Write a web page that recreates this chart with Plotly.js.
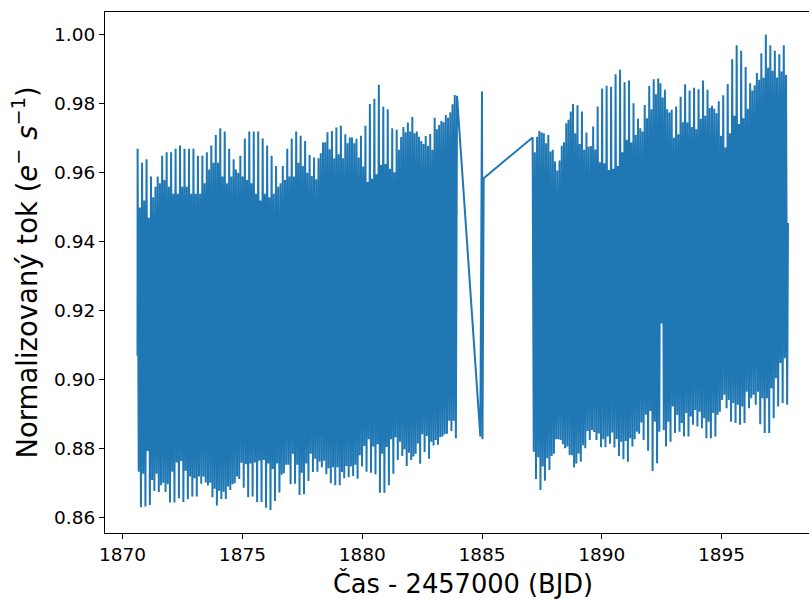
<!DOCTYPE html>
<html>
<head>
<meta charset="utf-8">
<script src="https://cdn.plot.ly/plotly-3.0.1.min.js"></script>
<style>
  html, body { margin: 0; padding: 0; overflow: hidden; background: #fff; }
  #chart { width: 830px; height: 599px; }
</style>
</head>
<body>
<div id="chart"></div>
<script>
// Light curve of a pulsating star: normalised flux versus time (BJD - 2457000).
// Each pulsation cycle is stored as its maximum and its minimum flux.

// First orbit (cycles spread evenly between the first and last maximum)
const orbit1Start = 1870.626;
const orbit1End = 1883.956;
const orbit1FirstFlux = 0.907;
const orbit1Max = [
  0.967, 0.950, 0.963, 0.952, 0.964, 0.947, 0.959, 0.953, 0.956, 0.959,
  0.957, 0.965, 0.958, 0.966, 0.956, 0.966, 0.954, 0.967, 0.954, 0.968,
  0.956, 0.967, 0.956, 0.967, 0.954, 0.967, 0.954, 0.965, 0.954, 0.965,
  0.957, 0.966, 0.961, 0.968, 0.963, 0.971, 0.963, 0.973, 0.959, 0.972,
  0.957, 0.967, 0.959, 0.964, 0.961, 0.960, 0.965, 0.959, 0.970, 0.958,
  0.972, 0.957, 0.972, 0.954, 0.972, 0.952, 0.970, 0.954, 0.968, 0.953,
  0.965, 0.954, 0.962, 0.956, 0.957, 0.962, 0.958, 0.967, 0.959, 0.970,
  0.959, 0.972, 0.963,
  0.9708, 0.9620, 0.9693, 0.9601, 0.9652, 0.9591, 0.9645, 0.9582, 0.9643, 0.9657,
  0.9688, 0.9689, 0.9718, 0.9669, 0.9722, 0.9643, 0.9732, 0.9654, 0.9737, 0.9643,
  0.9712, 0.9686, 0.9703, 0.9703, 0.9686, 0.9699, 0.9645, 0.9708, 0.9619, 0.9737,
  0.9574, 0.9800, 0.9583, 0.9815, 0.9596, 0.9856, 0.9623, 0.9792, 0.9626, 0.9785,
  0.9612, 0.9730, 0.9602, 0.9725, 0.9667, 0.9704, 0.9733, 0.9718, 0.9746, 0.9720,
  0.9763, 0.9715, 0.9720, 0.9705, 0.9693, 0.9684, 0.9707, 0.9678, 0.9713, 0.9667,
  0.9760, 0.9727, 0.9739, 0.9751, 0.9747, 0.9768, 0.9760, 0.9776, 0.9799, 0.9826,
  0.9824
];
const orbit1Min = [
  0.8734, 0.8631, 0.8728, 0.8633, 0.8794, 0.8638, 0.8710, 0.8678, 0.8728, 0.8675,
  0.8695, 0.8702, 0.8675, 0.8698, 0.8645, 0.8734, 0.8645, 0.8761, 0.8657, 0.8765,
  0.8646, 0.8737, 0.8654, 0.8720, 0.8662, 0.8715, 0.8662, 0.8720, 0.8699, 0.8720,
  0.8703, 0.8694, 0.8702, 0.8660, 0.8685, 0.8636, 0.8679, 0.8655, 0.8676, 0.8655,
  0.8691, 0.8681, 0.8698, 0.8701, 0.8720, 0.8713, 0.8760, 0.8688, 0.8756, 0.8660,
  0.8758, 0.8662, 0.8761, 0.8646, 0.8766, 0.8646, 0.8768, 0.8630, 0.8758, 0.8623,
  0.8742, 0.8649, 0.8758, 0.8674, 0.8725, 0.8730, 0.8754, 0.8754, 0.8698, 0.8786,
  0.8699, 0.8754, 0.8667, 0.8731, 0.8669, 0.8758, 0.8707, 0.8786, 0.8733, 0.8772,
  0.8734, 0.8764, 0.8747, 0.8766, 0.8727, 0.8744, 0.8701, 0.8747, 0.8695, 0.8747,
  0.8695, 0.8733, 0.8715, 0.8751, 0.8718, 0.8749, 0.8722, 0.8754, 0.8714, 0.8782,
  0.8749, 0.8809, 0.8734, 0.8828, 0.8731, 0.8807, 0.8727, 0.8814, 0.8673, 0.8786,
  0.8673, 0.8806, 0.8695, 0.8828, 0.8728, 0.8834, 0.8768, 0.8821, 0.8780, 0.8799,
  0.8751, 0.8789, 0.8768, 0.8778, 0.8786, 0.8816, 0.8757, 0.8843, 0.8791, 0.8838,
  0.8772, 0.8821, 0.8810, 0.8826, 0.8812, 0.8834, 0.8836, 0.8843, 0.8844, 0.8882,
  0.8852, 0.8882, 0.8831
];

// Short stretch of points inside the mid-sector gap
const gapTimes = [1884.93, 1885.00, 1885.02, 1885.07];
const gapFlux = [0.8836, 0.9836, 0.8828, 0.9585];

// Second orbit
const orbit2Start = 1887.112;
const orbit2End = 1897.688;
const orbit2LastTime = 1897.77;
const orbit2LastFlux = 0.9455;
const orbit2Max = [
  0.9703, 0.9660, 0.9705, 0.9722, 0.9717, 0.9715, 0.9686, 0.9710, 0.9662, 0.9667,
  0.9633, 0.9607, 0.9636, 0.9679, 0.9689, 0.9744, 0.9754, 0.9778, 0.9800, 0.9715,
  0.9796, 0.9684, 0.9778, 0.9667, 0.9717, 0.9676, 0.9678, 0.9735, 0.9668, 0.9793,
  0.9631, 0.9845, 0.9628, 0.9853, 0.9609, 0.9850, 0.9612, 0.9886, 0.9620, 0.9899,
  0.9660, 0.9863, 0.9696, 0.9868, 0.9688, 0.9802, 0.9710, 0.9757, 0.9730, 0.9720,
  0.9797, 0.9759, 0.9852, 0.9785, 0.9872, 0.9828, 0.9874, 0.9860, 0.9819, 0.9841,
  0.9785, 0.9775, 0.9783, 0.9702, 0.9793, 0.9712, 0.9821, 0.9747, 0.9857, 0.9746,
  0.9839, 0.9733, 0.9847, 0.9727, 0.9843, 0.9757, 0.9868, 0.9766, 0.9841, 0.9788,
  0.9795, 0.9786, 0.9773, 0.9808, 0.9708, 0.9825, 0.9674, 0.9858, 0.9715, 0.9930,
  0.9766, 0.9970, 0.9742, 0.9954, 0.9759, 0.9907, 0.9786, 0.9860, 0.9839, 0.9854,
  0.9890, 0.9870, 0.9947, 0.9876, 1.0001, 0.9905, 0.9970, 0.9896, 0.9954, 0.9877,
  0.9944, 0.9894, 0.9970, 0.9884
];
const orbit2Min = [
  0.8792, 0.8713, 0.8776, 0.8681, 0.8749, 0.8708, 0.8773, 0.8739, 0.8780, 0.8786,
  0.8828, 0.8828, 0.8826, 0.8814, 0.8802, 0.8807, 0.8783, 0.8782, 0.8746, 0.8758,
  0.8787, 0.8763, 0.8811, 0.8802, 0.8852, 0.8826, 0.8855, 0.8849, 0.8826, 0.8845,
  0.8805, 0.8828, 0.8805, 0.8836, 0.8815, 0.8848, 0.8804, 0.8829, 0.8780, 0.8821,
  0.8770, 0.8823, 0.8763, 0.8831, 0.8807, 0.8828, 0.8850, 0.8844, 0.8877, 0.8826,
  0.8899, 0.8795, 0.8910, 0.8736, 0.8879, 0.8759, 0.8850, 0.9164, 0.8855, 0.8807,
  0.8879, 0.8821, 0.8923, 0.8846, 0.8899, 0.8850, 0.8875, 0.8836, 0.8904, 0.8836,
  0.8894, 0.8870, 0.8913, 0.8865, 0.8908, 0.8860, 0.8889, 0.8831, 0.8879, 0.8831,
  0.8904, 0.8836, 0.8899, 0.8908, 0.8942, 0.8957, 0.8918, 0.8942, 0.8879, 0.8933,
  0.8875, 0.8928, 0.8870, 0.8923, 0.8875, 0.8966, 0.8918, 0.8947, 0.8957, 0.8928,
  0.8966, 0.8872, 0.8947, 0.8846, 0.8947, 0.8846, 0.8976, 0.8889, 0.9005, 0.8923,
  0.9049, 0.8933, 0.9063, 0.8928
];

// Interleave maxima and minima of one orbit into a time series
function buildOrbit(start, end, maxima, minima) {
  const step = (end - start) / (maxima.length - 1);
  const t = [], f = [];
  for (let i = 0; i < maxima.length; i++) {
    t.push(start + i * step);
    f.push(maxima[i]);
    if (i < minima.length) {
      t.push(start + (i + 0.5) * step);
      f.push(minima[i]);
    }
  }
  return { t, f };
}

const o1 = buildOrbit(orbit1Start, orbit1End, orbit1Max, orbit1Min);
const o2 = buildOrbit(orbit2Start, orbit2End, orbit2Max, orbit2Min);

const time = [orbit1Start - 0.004].concat(o1.t, gapTimes, o2.t, [orbit2LastTime]);
const flux = [orbit1FirstFlux].concat(o1.f, gapFlux, o2.f, [orbit2LastFlux]);

const font = 'DejaVu Sans, Liberation Sans, sans-serif';

const trace = {
  x: time,
  y: flux,
  type: 'scatter',
  mode: 'lines',
  line: { color: '#1f77b4', width: 2, simplify: false },
  hoverinfo: 'x+y'
};

const axisCommon = {
  showline: true,
  mirror: true,
  linecolor: '#000',
  linewidth: 1,
  ticks: 'outside',
  ticklen: 5,
  tickwidth: 1,
  tickcolor: '#000',
  showgrid: false,
  zeroline: false,
  tickfont: { family: font, size: 18.5, color: '#000' }
};

const layout = {
  width: 830,
  height: 599,
  margin: { l: 105, r: 9, t: 12, b: 66 },
  paper_bgcolor: '#fff',
  plot_bgcolor: '#fff',
  showlegend: false,
  xaxis: Object.assign({}, axisCommon, {
    range: [1869.265, 1899.148],
    tickmode: 'linear',
    tick0: 1870,
    dtick: 5,
    title: { text: 'Čas - 2457000 (BJD)', font: { family: font, size: 25.7, color: '#000' }, standoff: 14 }
  }),
  yaxis: Object.assign({}, axisCommon, {
    range: [0.85565, 1.00666],
    tickmode: 'linear',
    tick0: 0.86,
    dtick: 0.02,
    tickformat: '.2f',
    title: {
      text: 'Normalizovaný tok (<i>e</i><sup>−</sup> <i>s</i><sup>−1</sup>)',
      font: { family: font, size: 27.5, color: '#000' },
      standoff: 8
    }
  })
};

Plotly.newPlot('chart', [trace], layout, { displayModeBar: false, staticPlot: true });
</script>
</body>
</html>
